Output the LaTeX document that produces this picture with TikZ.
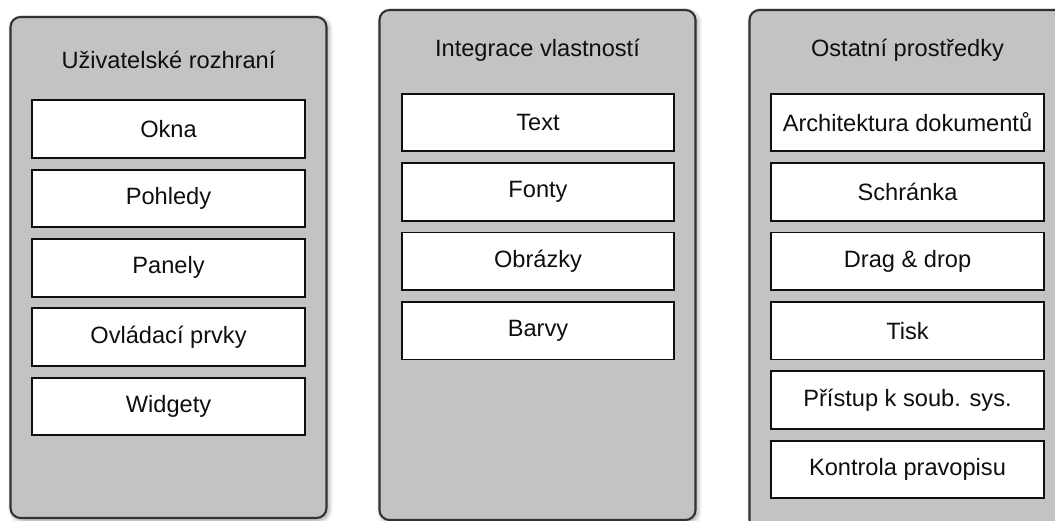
\documentclass[tikz,border=0pt]{standalone}
\usepackage{fontspec}
\setmainfont{Liberation Sans}
\usepackage{tikz}
\usetikzlibrary{shadows.blur}
\usepackage{xcolor}
\definecolor{panelgray}{RGB}{195,195,195}
\definecolor{edgegray}{RGB}{50,50,50}
\definecolor{inkblack}{RGB}{15,15,15}

\begin{document}
\begin{tikzpicture}[
    panel/.style={draw=edgegray,fill=panelgray,line width=1.5pt,rounded corners=0.25cm,
      minimum width=7.9cm,inner sep=0pt,outer sep=0pt,
      blur shadow={shadow xshift=0.5mm,shadow yshift=-0.5mm,shadow blur steps=8,shadow blur radius=1.2mm,shadow opacity=40}},
    title/.style={font=\fontsize{16.8}{20}\selectfont,text=inkblack},
    item/.style={draw=inkblack,fill=white,line width=1.35pt,minimum width=6.82cm,minimum height=1.44cm,
      inner sep=0pt,outer sep=0pt,font=\fontsize{16.8}{20}\selectfont,text=inkblack}
]
\useasboundingbox (0,0) rectangle (26.375,-13.025);
% Panels
\node[panel,minimum height=12.525cm] (ui) at (4.2125,-6.6875) {};
\node[panel,minimum height=12.75cm] (integ) at (13.4375,-6.625) {};
\node[panel,minimum height=13.0cm] (other) at (22.6875,-6.75) {};

% Uzivatelske rozhrani
\node[title] (uit) at (4.2125,-1.5) {Uživatelské rozhraní};
\node[item] (ui1) at (4.2125,-3.225) {Okna};
\node[item] (ui2) at (4.2125,-4.96) {Pohledy};
\node[item] (ui3) at (4.2125,-6.695) {Panely};
\node[item] (ui4) at (4.2125,-8.43) {Ovládací prvky};
\node[item] (ui5) at (4.2125,-10.165) {Widgety};

% Integrace vlastnosti
\node[title] (integt) at (13.4375,-1.25) {Integrace vlastností};
\node[item] (integ1) at (13.45,-3.0625) {Text};
\node[item] (integ2) at (13.45,-4.7975) {Fonty};
\node[item] (integ3) at (13.45,-6.5325) {Obrázky};
\node[item] (integ4) at (13.45,-8.2675) {Barvy};

% Ostatni prostredky
\node[title] (othert) at (22.6875,-1.25) {Ostatní prostředky};
\node[item] (other1) at (22.6875,-3.0625) {Architektura dokumentů};
\node[item] (other2) at (22.6875,-4.7975) {Schránka};
\node[item] (other3) at (22.6875,-6.5325) {Drag \& drop};
\node[item] (other4) at (22.6875,-8.2675) {Tisk};
\node[item] (other5) at (22.6875,-10.0025) {Přístup k soub. sys.};
\node[item] (other6) at (22.6875,-11.7375) {Kontrola pravopisu};
\end{tikzpicture}
\end{document}
